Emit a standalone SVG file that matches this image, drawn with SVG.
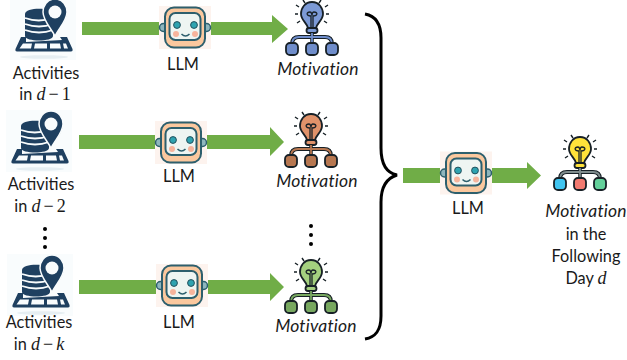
<svg xmlns="http://www.w3.org/2000/svg" width="627" height="360" viewBox="0 0 627 360">
<style>
text{font-family:"Lato","Liberation Sans",sans-serif;font-size:16.3px;fill:#1a1a1a;text-anchor:middle}
text.it{font-style:italic;font-size:17.500px;letter-spacing:.2px}
.m{font-family:"Liberation Serif","DejaVu Serif",serif;font-size:18px}
.mi{font-family:"Liberation Serif","DejaVu Serif",serif;font-size:18px;font-style:italic}
.ar{fill:#70ad47}
.navy{fill:#1f4060}
.ol{stroke:#172026;stroke-width:1.8}
</style>
<defs>
<g id="act">
<rect x="10" y="-2" width="66" height="62" fill="#f9fcfd"/>
<ellipse cx="44" cy="57" rx="24" ry="1.800" fill="#e6eef2"/>
<path class="navy" d="M21 37 L15.500 49 Q15 51.500 17 51.500 L71 51.500 Q73 51.500 72.500 49 L67 37 L60 37 L62 40 L26 42 L26 37Z"/>
<path d="M23 43.500H32L31 48.500H19.500ZM35 43.500H47V48.500H34ZM50 43.500H60L61 48.500H50ZM63 43.500H66L68 48.500H64Z" fill="#f9fcfd"/>
<path class="navy" d="M25 14 C25 7 53 7 53 14 V36 C53 42 25 42 25 36Z"/>
<path d="M25 18 Q39 23 52 18M25 24 Q39 29 53 24M25 30 Q39 35 53 30" fill="none" stroke="#f9fcfd" stroke-width="1.800"/>
<path class="navy" stroke="#f9fcfd" stroke-width="1.500" d="M55 -1 C47 -1 43 6 43 12 C43 20 50 27 55 36 C60 27 67 20 67 12 C67 6 63 -1 55 -1Z"/>
<circle cx="55" cy="12" r="6.500" fill="#f9fcfd"/>
</g>
<g id="llm">
<rect width="52" height="43" fill="#fdf3ee"/>
<circle cx="4.500" cy="21.500" r="4" fill="#8fb6bd" stroke="#2d5f6d" stroke-width="1.500"/>
<circle cx="47.500" cy="21.500" r="4" fill="#8fb6bd" stroke="#2d5f6d" stroke-width="1.500"/>
<rect x="6" y="1.500" width="40" height="40" rx="9" fill="#fbc89e" stroke="#2d5f6d" stroke-width="2"/>
<rect x="10.500" y="7" width="31" height="27" rx="6" fill="#eef5f2" stroke="#2d5f6d" stroke-width="2"/>
<circle cx="18" cy="19" r="3.400" fill="#2ea3b0" stroke="#24505c"/>
<circle cx="35" cy="19" r="3.400" fill="#2ea3b0" stroke="#24505c"/>
<circle cx="17" cy="28" r="3" fill="#f7b49c"/>
<circle cx="36" cy="28" r="3" fill="#f7b49c"/>
<path d="M22.500 28 Q26.500 32 30.500 28" fill="none" stroke="#2d5f6d" stroke-width="1.500"/>
</g>
<g id="rays" stroke="#172026" stroke-width="1.400" fill="none">
<path d="M-16 4L-13 6M16 4L13 6M-17 13H-14M17 13H14M-15 22L-12 20M15 22L12 20M-9 -1L-7 2M9 -1L7 2"/>
</g>
<g id="bulb">
<use href="#rays"/>
<path class="ol" fill="var(--c)" d="M0 1 C-7 1 -11 7 -11 13 C-11 19 -5 22 -4 27 H4 C5 22 11 19 11 13 C11 7 7 1 0 1Z"/>
<path d="M-1 27V15M1 27V15M-1 15C-6 15 -6 11 -2 11 C0 11 0 15 0 15 C0 15 0 11 2 11 C6 11 6 15 1 15" fill="none" stroke="#172026" stroke-width="1.300"/>
<rect x="-5.500" y="27" width="11" height="5" rx="2.500" fill="var(--c)" class="ol"/>
<path d="M0 32V45" stroke="#172026" stroke-width="3.500"/>
<path d="M-20 43C-20 38 -17 36 -13 36H13C17 36 20 38 20 43" fill="none" stroke="#172026" stroke-width="4"/>
<path d="M0 32V45M-20 43C-20 38 -17 36 -13 36H13C17 36 20 38 20 43" fill="none" stroke="var(--d)" stroke-width="1.800"/>
<rect x="-26" y="42" width="12" height="12" rx="4" fill="var(--a)" class="ol"/>
<rect x="-6" y="42" width="12" height="12" rx="4" fill="var(--b)" class="ol"/>
<rect x="14" y="42" width="12" height="12" rx="4" fill="var(--e)" class="ol"/>
</g>
</defs>
<g id="connectors">
<rect class="ar" x="82" y="22" width="77" height="13"/>
<path class="ar" d="M211 22H272V15L288 29L272 43V35H211Z"/>
<rect class="ar" x="79" y="135" width="76" height="14"/>
<path class="ar" d="M207 135H270V127L284 142L270 156V149H207Z"/>
<rect class="ar" x="79" y="280" width="77" height="14"/>
<path class="ar" d="M208 280H270V273L284 287L270 301V294H208Z"/>
<rect class="ar" x="403" y="168" width="37" height="15"/>
<path class="ar" d="M492 168H527V162L541 175.500L527 189V183H492Z"/>
<path id="brace" d="M365 14 C376 16 381 24 381 38 V148 C381 165 387 173 397 175 C387 178 381 186 381 202 V316 C381 330 376 337 365 339" fill="none" stroke="#000" stroke-width="3"/>
</g>
<g id="act1"><use href="#act"/><text x="46" y="79">Activities</text><text x="45" y="100">in <tspan class="mi">d</tspan><tspan class="m" dx="3">−</tspan><tspan class="m" dx="3">1</tspan></text></g>
<g id="act2"><use href="#act" x="-4" y="112"/><text x="41" y="190">Activities</text><text x="40" y="212">in <tspan class="mi">d</tspan><tspan class="m" dx="3">−</tspan><tspan class="m" dx="3">2</tspan></text></g>
<g id="act3"><use href="#act" x="-3" y="256"/><text x="39" y="328">Activities</text><text x="39" y="350">in <tspan class="mi">d</tspan><tspan class="m" dx="3">−</tspan><tspan class="mi" dx="3">k</tspan></text></g>
<g id="dots1" fill="#000"><circle cx="45" cy="229" r="2"/><circle cx="45" cy="238" r="2"/><circle cx="45" cy="247" r="2"/></g>
<g id="dots2" fill="#000"><circle cx="311" cy="226" r="2"/><circle cx="311" cy="235" r="2"/><circle cx="311" cy="244" r="2"/></g>
<g id="llm1"><use href="#llm" x="159" y="6"/><text x="183" y="70">LLM</text></g>
<g id="llm2"><use href="#llm" x="155" y="121"/><text x="179" y="182">LLM</text></g>
<g id="llm3"><use href="#llm" x="156" y="264"/><text x="179" y="328">LLM</text></g>
<g id="llm4"><use href="#llm" x="440" y="151.500"/><text x="468" y="214">LLM</text></g>
<g id="mot1" style="--c:#7c9ad6;--d:#6f8dcb;--a:#6f8dcb;--b:#6f8dcb;--e:#6f8dcb"><use href="#bulb" x="312" y="1"/><text class="it" x="318" y="75">Motivation</text></g>
<g id="mot2" style="--c:#e0926a;--d:#b77750;--a:#b77750;--b:#b77750;--e:#b77750"><use href="#bulb" x="311" y="113"/><text class="it" x="317" y="187">Motivation</text></g>
<g id="mot3" style="--c:#a4d07f;--d:#78a860;--a:#78a860;--b:#78a860;--e:#78a860"><use href="#bulb" x="311" y="259"/><text class="it" x="316" y="332">Motivation</text></g>
<g id="mot4" style="--c:#ffe23a;--d:#7f8c8d;--a:#3fc4f0;--b:#f27a70;--e:#63d09a"><use href="#bulb" x="580" y="136"/><text class="it" x="586" y="217">Motivation</text><text x="586" y="240">in the</text><text x="586" y="262">Following</text><text x="586" y="284">Day <tspan class="mi">d</tspan></text></g>
</svg>
